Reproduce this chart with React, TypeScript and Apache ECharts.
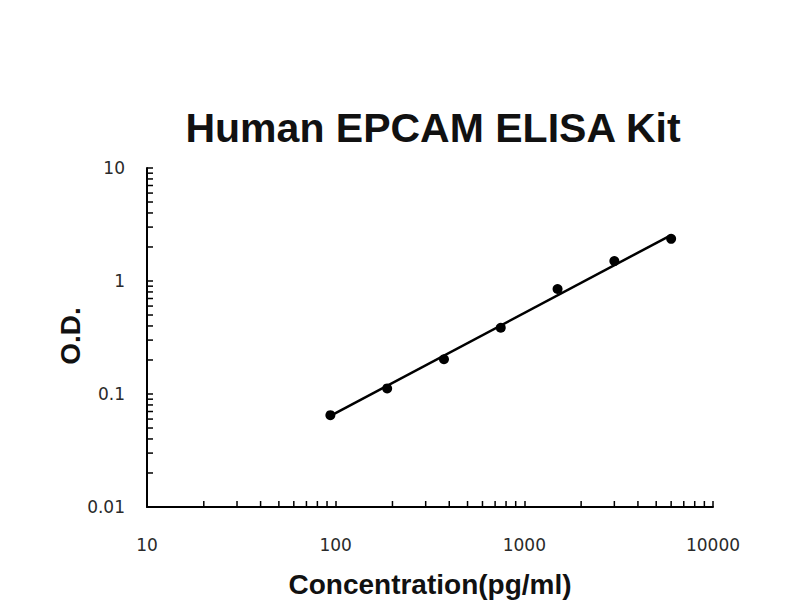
import React, { useEffect, useRef } from "react";
import * as echarts from "echarts";

// Standard concentrations (pg/ml) and measured O.D.
const concentrations = [93.75, 187.5, 375, 750, 1500, 3000, 6000];
const odValues = [0.065, 0.112, 0.203, 0.386, 0.849, 1.5, 2.36];

// Fitted line end points
const fitX = [93.75, 6000];
const fitY = [0.064, 2.55];

// Axis ranges and tick labels
const xRange = [10, 10000];
const yRange = [0.01, 10];
const xTickLabels = ["10", "100", "1000", "10000"];
const yTickLabels = ["0.01", "0.1", "1", "10"];

// Minor tick positions (2..9 of every decade)
const minorSteps = [2, 3, 4, 5, 6, 7, 8, 9];
const xDecades = [10, 100, 1000];
const yDecades = [0.01, 0.1, 1];

const title = "Human EPCAM ELISA Kit";
const xName = "Concentration(pg/ml)";
const yName = "O.D.";

function fmt(v: number, labels: string[]) {
  const s = String(Number(v.toPrecision(6)));
  const found = labels.find((l) => Number(l) === Number(s));
  return found ?? s;
}

export default function App() {
  const ref = useRef<HTMLDivElement>(null);

  useEffect(() => {
    if (!ref.current) return;
    const chart = echarts.init(ref.current, null, { renderer: "svg" });

    const xMinor: number[][] = [];
    xDecades.forEach((d) => minorSteps.forEach((m) => xMinor.push([Number((d * m).toPrecision(6)), yRange[0]])));
    const yMinor: number[][] = [];
    yDecades.forEach((d) => minorSteps.forEach((m) => yMinor.push([xRange[0], Number((d * m).toPrecision(6))])));

    const tickLen = 6;
    const labelStyle = {
      fontFamily: "DejaVu Sans",
      fontSize: 17,
      color: "#2a2a2a",
    };

    chart.setOption({
      animation: false,
      backgroundColor: "#ffffff",
      grid: {
        left: 147,
        right: 87,
        top: 168,
        bottom: 93,
        containLabel: false,
        outerBoundsMode: "none",
      },
      xAxis: {
        type: "log",
        logBase: 10,
        min: xRange[0],
        max: xRange[1],
        axisLine: { show: true, onZero: false, lineStyle: { color: "#000", width: 2 } },
        axisTick: { show: true, inside: true, length: tickLen, lineStyle: { color: "#000", width: 1.5 } },
        minorTick: { show: false },
        splitLine: { show: false },
        axisLabel: {
          ...labelStyle,
          margin: 29,
          formatter: (v: number) => fmt(v, xTickLabels),
        },
      },
      yAxis: {
        type: "log",
        logBase: 10,
        min: yRange[0],
        max: yRange[1],
        axisLine: { show: true, onZero: false, lineStyle: { color: "#000", width: 2 } },
        axisTick: { show: true, inside: true, length: tickLen, lineStyle: { color: "#000", width: 1.5 } },
        minorTick: { show: false },
        splitLine: { show: false },
        axisLabel: {
          ...labelStyle,
          margin: 22,
          formatter: (v: number) => fmt(v, yTickLabels),
        },
      },
      graphic: [
        {
          type: "text",
          x: 433,
          y: 128,
          style: {
            text: title,
            fontFamily: "Liberation Sans",
            fontWeight: "bold",
            fontSize: 41,
            fill: "#111",
            align: "center",
            verticalAlign: "middle",
          },
        },
        {
          type: "text",
          x: 430,
          y: 584,
          style: {
            text: xName,
            fontFamily: "Liberation Sans",
            fontWeight: "bold",
            fontSize: 28,
            fill: "#111",
            align: "center",
            verticalAlign: "middle",
          },
        },
        {
          type: "text",
          x: 70,
          y: 336,
          rotation: Math.PI / 2,
          style: {
            text: yName,
            fontFamily: "Liberation Sans",
            fontWeight: "bold",
            fontSize: 28,
            fill: "#111",
            align: "center",
            verticalAlign: "middle",
          },
        },
      ],
      series: [
        {
          type: "custom",
          name: "xMinor",
          silent: true,
          clip: false,
          data: xMinor,
          renderItem: (params: any, api: any) => {
            const p = api.coord([api.value(0), api.value(1)]);
            return {
              type: "line",
              shape: { x1: p[0], y1: p[1], x2: p[0], y2: p[1] - tickLen },
              style: { stroke: "#000", lineWidth: 1.5 },
            };
          },
        },
        {
          type: "custom",
          name: "yMinor",
          silent: true,
          clip: false,
          data: yMinor,
          renderItem: (params: any, api: any) => {
            const p = api.coord([api.value(0), api.value(1)]);
            return {
              type: "line",
              shape: { x1: p[0], y1: p[1], x2: p[0] + tickLen, y2: p[1] },
              style: { stroke: "#000", lineWidth: 1.5 },
            };
          },
        },
        {
          type: "line",
          name: "fit",
          data: fitX.map((x, i) => [x, fitY[i]]),
          symbol: "none",
          lineStyle: { color: "#000", width: 2.5 },
          z: 3,
        },
        {
          type: "scatter",
          name: "OD",
          data: concentrations.map((x, i) => [x, odValues[i]]),
          symbol: "circle",
          symbolSize: 10,
          itemStyle: { color: "#000", opacity: 1 },
          z: 4,
        },
      ],
    });

    return () => chart.dispose();
  }, []);

  return (
    <div
      ref={ref}
      style={{ position: "fixed", left: 0, top: 0, width: 800, height: 600, background: "#fff" }}
    />
  );
}
